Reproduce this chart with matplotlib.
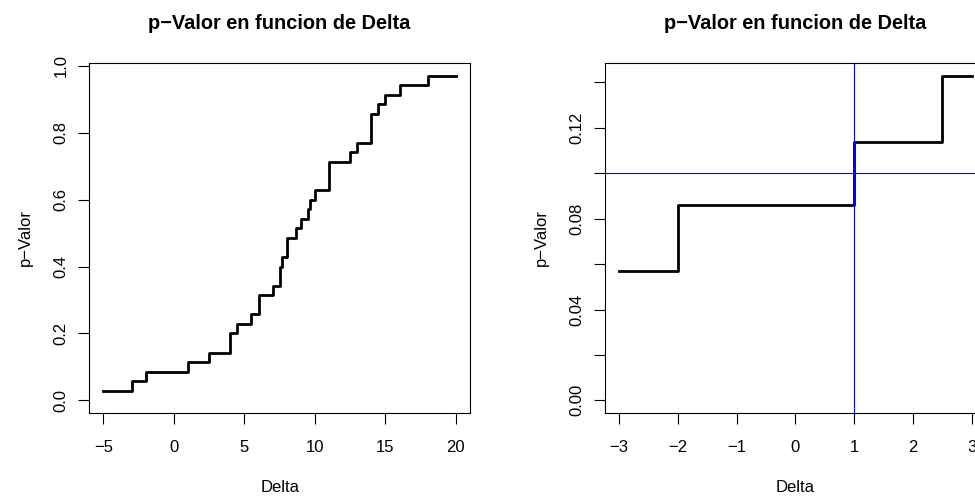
import matplotlib
matplotlib.use("Agg")
import matplotlib.pyplot as plt
import numpy as np

plt.rcParams['font.family'] = ['Liberation Sans', 'DejaVu Sans']
plt.rcParams['font.size'] = 12

# puntos de salto (Delta) y p-valor despues de cada salto
delta_saltos = [-5, -3, -2, 1, 2.5, 4, 4.5, 5.5, 6, 7, 7.5, 7.67, 8, 8.67, 9,
                9.5, 9.67, 10, 11, 12.5, 13, 14, 14.5, 15, 16, 18, 20]
p_valor = [0.029, 0.057, 0.086, 0.114, 0.143, 0.200, 0.229, 0.257, 0.314,
           0.343, 0.400, 0.429, 0.486, 0.514, 0.543, 0.571, 0.600, 0.629,
           0.714, 0.743, 0.771, 0.857, 0.886, 0.914, 0.943, 0.971, 0.971]

# zoom del panel derecho
zoom_lim = (-3, 3)
alfa = 0.1
delta0 = 1

titulo = "p\u2212Valor en funcion de Delta"
ylab = "p\u2212Valor"
xlab = "Delta"

x_all = np.array(delta_saltos)
y_all = np.array(p_valor)


def recorte(lo, hi):
    # tramo de la funcion escalonada entre lo y hi
    m = (x_all >= lo) & (x_all <= hi)
    xs = list(x_all[m])
    ys = list(y_all[m])
    if xs[-1] < hi:
        i = np.searchsorted(x_all, hi, side='right') - 1
        xs.append(hi)
        ys.append(y_all[i])
    return np.array(xs), np.array(ys)


def r_lims(lo, hi):
    r = hi - lo
    return lo - 0.04 * r, hi + 0.04 * r


def estilo(ax):
    for s in ax.spines.values():
        s.set_linewidth(0.8)
        s.set_color('black')
    ax.tick_params(axis='both', length=7.8, width=0.8, labelsize=12)
    ax.tick_params(axis='x', pad=11.5)
    ax.tick_params(axis='y', pad=7, labelrotation=90)
    for t in ax.get_yticklabels():
        t.set_va('center')
    ax.set_title(titulo, fontweight='bold', fontsize=14.4, pad=24.5)
    ax.set_xlabel(xlab, fontsize=12)
    ax.set_ylabel(ylab, fontsize=12)
    ax.xaxis.set_label_coords(0.5, -0.19)
    ax.yaxis.set_label_coords(-0.147, 0.5)


fig = plt.figure(figsize=(9.75, 4.96), dpi=100)

# panel izquierdo
ax1 = fig.add_axes([89.3 / 975, 1 - 413.3 / 496, 380.7 / 975, 350.6 / 496])
ax1.step(x_all, y_all, where='post', color='black', lw=2)
ax1.set_xlim(*r_lims(x_all.min(), x_all.max()))
ax1.set_ylim(*r_lims(0, y_all.max()))
ax1.set_xticks([-5, 0, 5, 10, 15, 20])
ax1.set_xticklabels(["\u22125", "0", "5", "10", "15", "20"])
ax1.set_yticks([0, 0.2, 0.4, 0.6, 0.8, 1.0])
ax1.set_yticklabels(["0.0", "0.2", "0.4", "0.6", "0.8", "1.0"])
estilo(ax1)

# panel derecho
xz, yz = recorte(*zoom_lim)
ax2 = fig.add_axes([605 / 975, 1 - 413.3 / 496, 380.7 / 975, 350.6 / 496])
ax2.step(xz, yz, where='post', color='black', lw=2)
ax2.axhline(alfa, color='blue', lw=0.8)
ax2.axvline(delta0, color='blue', lw=0.8)
ax2.set_xlim(*r_lims(*zoom_lim))
ax2.set_ylim(*r_lims(0, yz.max()))
ax2.set_xticks(range(-3, 4))
ax2.set_xticklabels([str(v).replace('-', '\u2212') for v in range(-3, 4)])
yt = np.arange(0, 0.141, 0.02)
ax2.set_yticks(yt)
ax2.set_yticklabels([f"{v:.2f}" if i % 2 == 0 else "" for i, v in enumerate(yt)])
estilo(ax2)

fig.savefig("out.png", dpi=100)
